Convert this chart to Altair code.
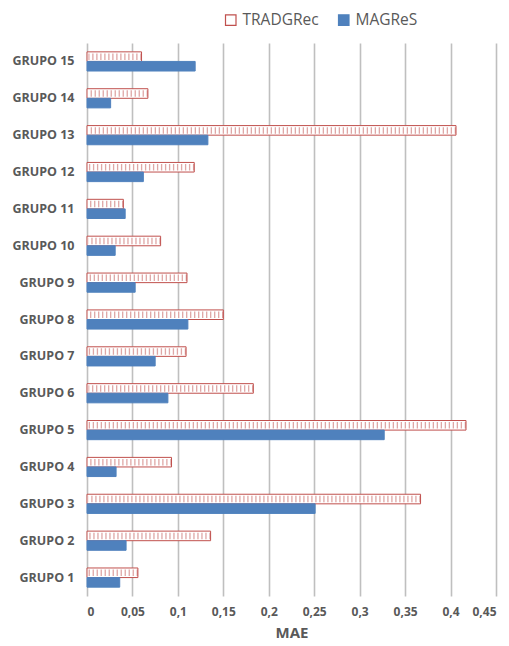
import altair as alt
import pandas as pd

groups = ["GRUPO 1", "GRUPO 2", "GRUPO 3", "GRUPO 4", "GRUPO 5", "GRUPO 6", "GRUPO 7", "GRUPO 8",
          "GRUPO 9", "GRUPO 10", "GRUPO 11", "GRUPO 12", "GRUPO 13", "GRUPO 14", "GRUPO 15"]
tradgrec = [0.056, 0.136, 0.367, 0.093, 0.417, 0.183, 0.109, 0.150,
            0.110, 0.081, 0.040, 0.118, 0.406, 0.067, 0.060]
magres = [0.036, 0.043, 0.251, 0.032, 0.327, 0.089, 0.075, 0.111,
          0.053, 0.031, 0.042, 0.062, 0.133, 0.026, 0.119]
series_names = ["TRADGRec", "MAGReS"]
x_ticks = [0, 0.05, 0.1, 0.15, 0.2, 0.25, 0.3, 0.35, 0.4, 0.45]

rows = []
for g, t, m in zip(groups, tradgrec, magres):
    rows.append({"group": g, "series": "TRADGRec", "value": t})
    rows.append({"group": g, "series": "MAGReS", "value": m})
df = pd.DataFrame(rows)

order = list(reversed(groups))
FONT = "Open Sans"
GRAY = "#595959"

y_enc = alt.Y("group:N", sort=order, title=None,
              scale=alt.Scale(paddingInner=0.48, paddingOuter=0.24),
              axis=alt.Axis(labelFont=FONT, labelFontSize=12.5, labelFontWeight="bold",
                            labelColor=GRAY, labelPadding=13, ticks=False, domain=False))
x_enc = alt.X("value:Q", title="MAE",
              scale=alt.Scale(domain=[0, 0.45], nice=False, zero=True),
              axis=alt.Axis(values=x_ticks,
                            labelExpr="replace(format(datum.value, '.2~f'), '.', ',')",
                            labelFont=FONT, labelFontSize=12, labelFontWeight="bold",
                            labelColor=GRAY, labelPadding=10, ticks=False, domain=False,
                            grid=True, gridColor="#BFBFBF", gridWidth=1.6,
                            titleFont=FONT, titleFontSize=15, titleFontWeight="bold",
                            titleColor=GRAY, titlePadding=8))

legend = alt.Legend(title=None, orient="none", direction="horizontal",
                    legendX=136, legendY=-31, symbolType="square", symbolSize=110,
                    symbolStrokeWidth=1.2, labelFont=FONT, labelFontSize=15.5,
                    labelColor=GRAY, columnPadding=17, labelOffset=4)

base = alt.Chart(df)

bars = base.mark_bar(strokeWidth=1).encode(
    y=y_enc,
    x=x_enc,
    yOffset=alt.YOffset("series:N", sort=series_names,
                        scale=alt.Scale(domain=series_names, paddingInner=0, paddingOuter=0)),
    fill=alt.Fill("series:N", sort=series_names,
                  scale=alt.Scale(domain=series_names, range=["#FFFFFF", "#4F81BD"]),
                  legend=legend),
    stroke=alt.Stroke("series:N", sort=series_names,
                      scale=alt.Scale(domain=series_names, range=["#C0504D", "#4F81BD"]),
                      legend=legend),
)

pattern = base.transform_filter(alt.datum.series == "TRADGRec").mark_rule(
    strokeDash=[1.3, 2.7], strokeWidth=6.5, color="#C0504D", opacity=0.5
).encode(
    y=alt.Y("group:N", sort=order),
    yOffset=alt.value(4.8),
    x=alt.X("value:Q"),
    x2=alt.datum(0.0015),
)

chart = alt.layer(bars, pattern).properties(
    width=409, height=553,
    autosize=alt.AutoSizeParams(type="none"),
    padding={"left": 79, "top": 35, "right": 5, "bottom": 60},
).configure_view(stroke=None)

chart.save("out.html", embed_options={"renderer": "svg", "actions": False})
